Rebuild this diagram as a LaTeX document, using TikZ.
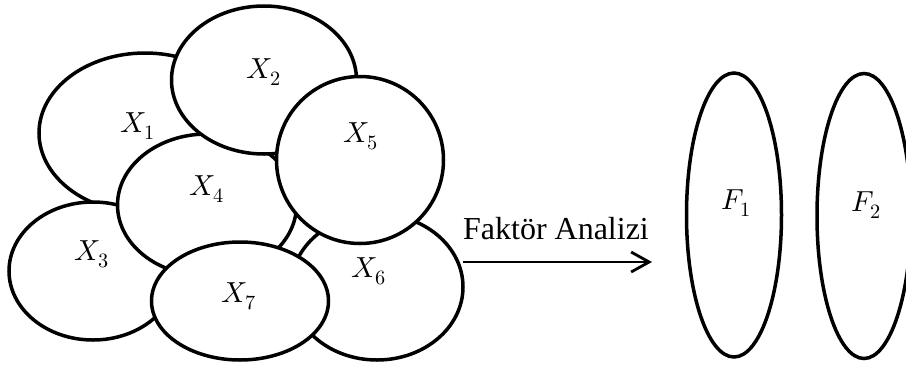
\documentclass[tikz,border=0pt]{standalone}
\usepackage{fontspec}
\usepackage{unicode-math}
\setmainfont{Liberation Serif}
\setmathfont{Latin Modern Math}
\usetikzlibrary{arrows.meta,shapes.geometric}

\begin{document}
\begin{tikzpicture}[
  x=1pt,y=-1pt,
  blob/.style={draw,ellipse,line width=3.5pt,fill=white,inner sep=0pt},
  lbl/.style={font=\fontsize{29}{34}\selectfont},
  arrow/.style={-{Straight Barb[length=18pt,width=20pt]},line width=2.8pt}
]
\useasboundingbox (0,0) rectangle (906,365);
% variables, back to front
\node[blob,minimum width=212pt,minimum height=160pt] (e1) at (145,133) {};
\node[blob,minimum width=168pt,minimum height=138pt] (e3) at (93,271) {};
\node[blob,minimum width=179pt,minimum height=142pt] (e4) at (207,205) {};
\node[blob,minimum width=185pt,minimum height=148pt] (e2) at (264,80) {};
\node[blob,minimum width=172pt,minimum height=146pt] (e6) at (377,287) {};
\node[blob,minimum width=167pt,minimum height=167pt] (e5) at (360,160) {};
\node[blob,minimum width=177pt,minimum height=118pt] (e7) at (240,301) {};
\node[lbl] (l1) at (138,126) {$X_1$};
\node[lbl] (l2) at (264,72) {$X_2$};
\node[lbl] (l3) at (92,254) {$X_3$};
\node[lbl] (l4) at (207,189) {$X_4$};
\node[lbl] (l5) at (361,136) {$X_5$};
\node[lbl] (l6) at (369,271) {$X_6$};
\node[lbl] (l7) at (239,296) {$X_7$};
% factors
\node[blob,minimum width=95pt,minimum height=284pt] (f1) at (734,215) {};
\node[blob,minimum width=94pt,minimum height=285pt] (f2) at (864,216) {};
\node[lbl] (m1) at (736,203) {$F_1$};
\node[lbl] (m2) at (866,205) {$F_2$};
% arrow
\coordinate (start) at (463,262);
\coordinate (stop) at (652,262);
\draw[arrow] (start) -- (stop);
\node[font=\fontsize{32}{38}\selectfont,anchor=base] (fa) at (556,239) {Faktör Analizi};
\end{tikzpicture}
\end{document}
